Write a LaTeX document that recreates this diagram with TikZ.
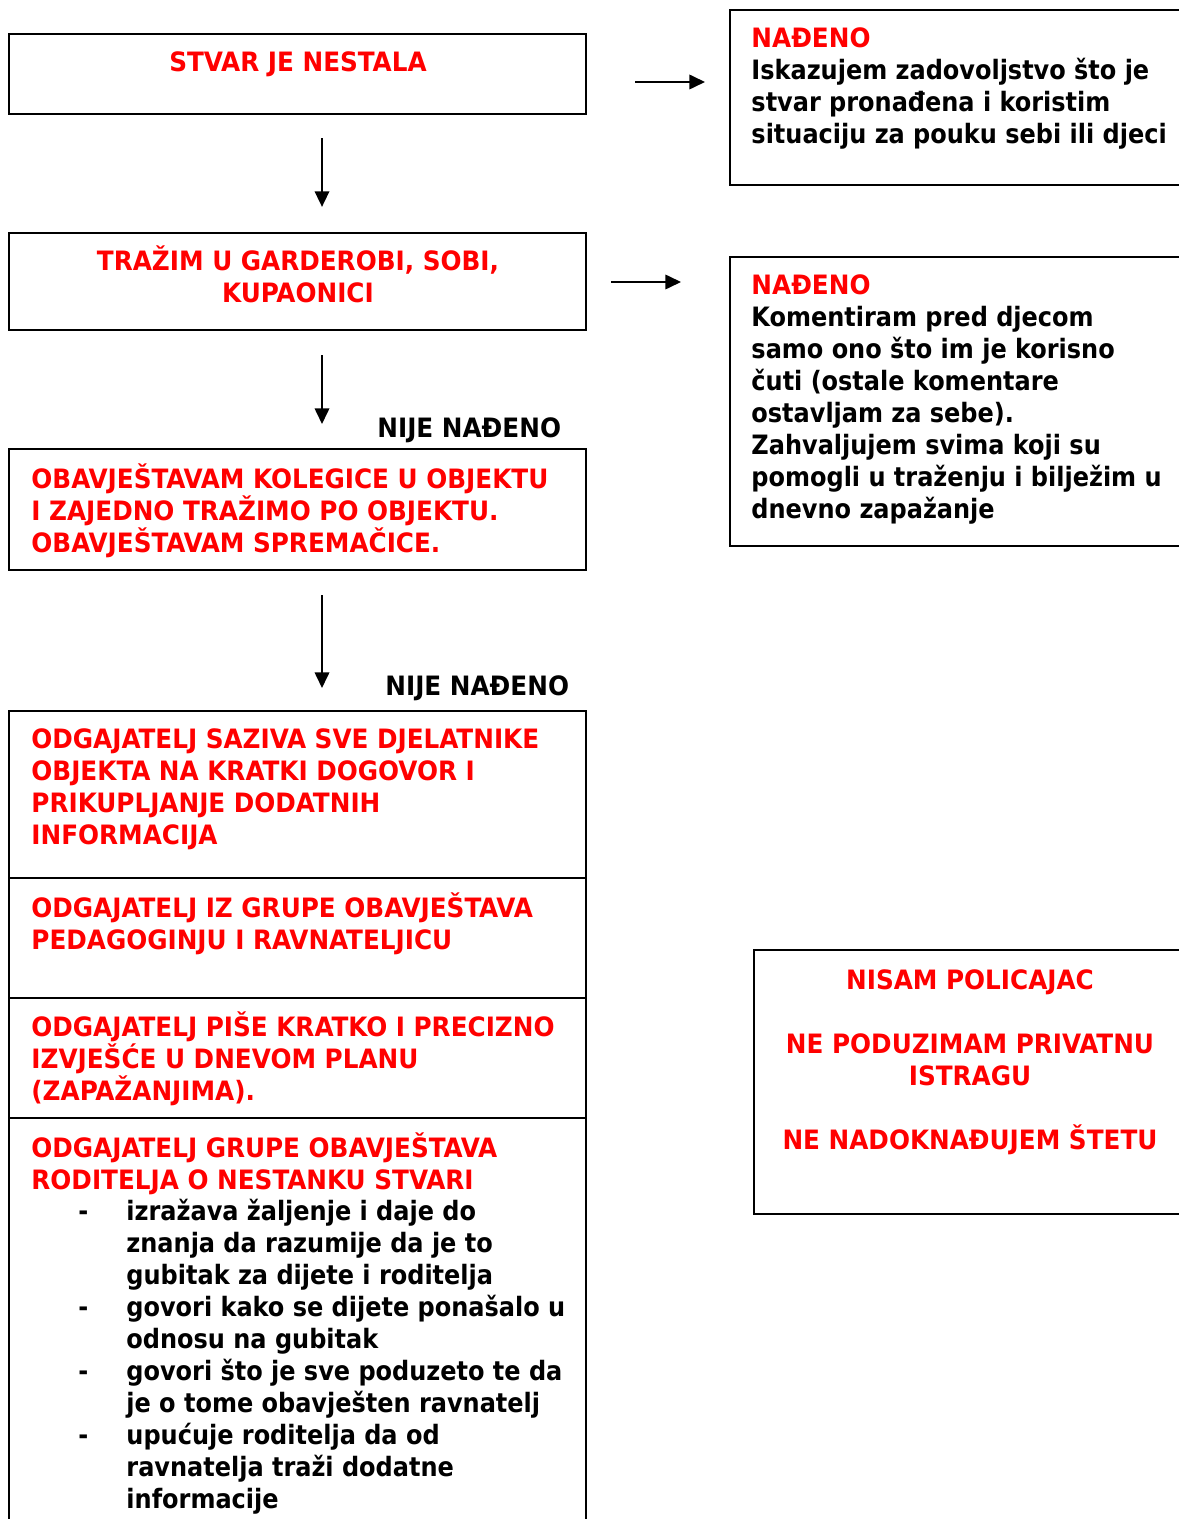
\documentclass[tikz,border=0pt]{standalone}
\usepackage{fontspec}
\setmainfont{DejaVu Sans Condensed Bold}
\newfontfamily\capsfont{DejaVu Sans Condensed Bold}[FakeStretch=1.03]
\usetikzlibrary{arrows.meta, fit}

\begin{document}
\begin{tikzpicture}[x=0.45pt,y=-0.45pt,>={Triangle[length=7pt,width=6.5pt]},
	every edge/.append style={->,line width=0.9pt},
	box/.style={draw,line width=0.9pt,inner sep=0pt},
	txt/.style={inner sep=0pt,align=left,font=\fontsize{12}{14.4}\selectfont},
	ctxt/.style={txt,font=\fontsize{12}{14.4}\selectfont\capsfont},
	rtxt/.style={ctxt,text=red}]
	\useasboundingbox (0,0) rectangle (1178,1519);
	% left column (text nodes sit on the baseline of their last line)
	\node[box,fit={(9,34) (586,114)}] (b1) {};
	\node[rtxt,anchor=base] (t1) at (298,72) {STVAR JE NESTALA};
	\node[box,fit={(9,233) (586,330)}] (b2) {};
	\node[rtxt,align=center,anchor=base] (t2) at (298,303) {TRAŽIM U GARDEROBI, SOBI,\\KUPAONICI};
	\node[ctxt,anchor=base west] (n1) at (377,437) {NIJE NAĐENO};
	\node[box,fit={(9,449) (586,570)}] (b3) {};
	\node[rtxt,anchor=base west] (t3) at (31,552) {OBAVJEŠTAVAM KOLEGICE U OBJEKTU\\I ZAJEDNO TRAŽIMO PO OBJEKTU.\\OBAVJEŠTAVAM SPREMAČICE.};
	\node[ctxt,anchor=base west] (n2) at (385,695) {NIJE NAĐENO};
	\node[box,fit={(9,711) (586,878)}] (b4) {};
	\node[rtxt,anchor=base west] (t4) at (31,844) {ODGAJATELJ SAZIVA SVE DJELATNIKE\\OBJEKTA NA KRATKI DOGOVOR I\\PRIKUPLJANJE DODATNIH\\INFORMACIJA};
	\node[box,fit={(9,878) (586,998)}] (b5) {};
	\node[rtxt,anchor=base west] (t5) at (31,949) {ODGAJATELJ IZ GRUPE OBAVJEŠTAVA\\PEDAGOGINJU I RAVNATELJICU};
	\node[box,fit={(9,998) (586,1118)}] (b6) {};
	\node[rtxt,anchor=base west] (t6) at (31,1100) {ODGAJATELJ PIŠE KRATKO I PRECIZNO\\IZVJEŠĆE U DNEVOM PLANU\\(ZAPAŽANJIMA).};
	\node[box,fit={(9,1118) (586,1540)}] (b7) {};
	\node[rtxt,anchor=base west] (t7) at (31,1189) {ODGAJATELJ GRUPE OBAVJEŠTAVA\\RODITELJA O NESTANKU STVARI};
	\node[txt,anchor=base west] (l7) at (126,1508) {izražava žaljenje i daje do\\znanja da razumije da je to\\gubitak za dijete i roditelja\\govori kako se dijete ponašalo u\\odnosu na gubitak\\govori što je sve poduzeto te da\\je o tome obavješten ravnatelj\\upućuje roditelja da od\\ravnatelja traži dodatne\\informacije};
	\node[txt,anchor=base west] (d1) at (78,1220) {-};
	\node[txt,anchor=base west] (d2) at (78,1316) {-};
	\node[txt,anchor=base west] (d3) at (78,1380) {-};
	\node[txt,anchor=base west] (d4) at (78,1444) {-};
	% right column
	\node[box,fit={(730,10) (1200,185)}] (r1) {};
	\node[txt,anchor=base west] (s1) at (751,143.5) {\textcolor{red}{\capsfont NAĐENO}\\Iskazujem zadovoljstvo što je\\stvar pronađena i koristim\\situaciju za pouku sebi ili djeci};
	\node[box,fit={(730,257) (1200,546)}] (r2) {};
	\node[txt,anchor=base west] (s2) at (751,518) {\textcolor{red}{\capsfont NAĐENO}\\Komentiram pred djecom\\samo ono što im je korisno\\čuti (ostale komentare\\ostavljam za sebe).\\Zahvaljujem svima koji su\\pomogli u traženju i bilježim u\\dnevno zapažanje};
	\node[box,fit={(754,950) (1200,1214)}] (r3) {};
	\node[rtxt,align=center,anchor=base] (s3) at (970,1149) {NISAM POLICAJAC\\[14.4pt]NE PODUZIMAM PRIVATNU\\ISTRAGU\\[14.4pt]NE NADOKNAĐUJEM ŠTETU};
	% arrows
	\coordinate (ax) at (322,0);
	\coordinate (ay1) at (0,82);
	\coordinate (ay2) at (0,282);
	\path (b1.south -| ax) edge[shorten <=10.4pt,shorten >=11.3pt] (b2.north -| ax);
	\path (b2.south -| ax) edge[shorten <=10.8pt,shorten >=10.8pt] (b3.north -| ax);
	\path (b3.south -| ax) edge[shorten <=10.8pt,shorten >=9.9pt] (b4.north -| ax);
	\path (b1.east |- ay1) edge[shorten <=21.6pt,shorten >=10.8pt] (r1.west |- ay1);
	\path (b2.east |- ay2) edge[shorten <=10.8pt,shorten >=21.6pt] (r2.west |- ay2);
\end{tikzpicture}
\end{document}
